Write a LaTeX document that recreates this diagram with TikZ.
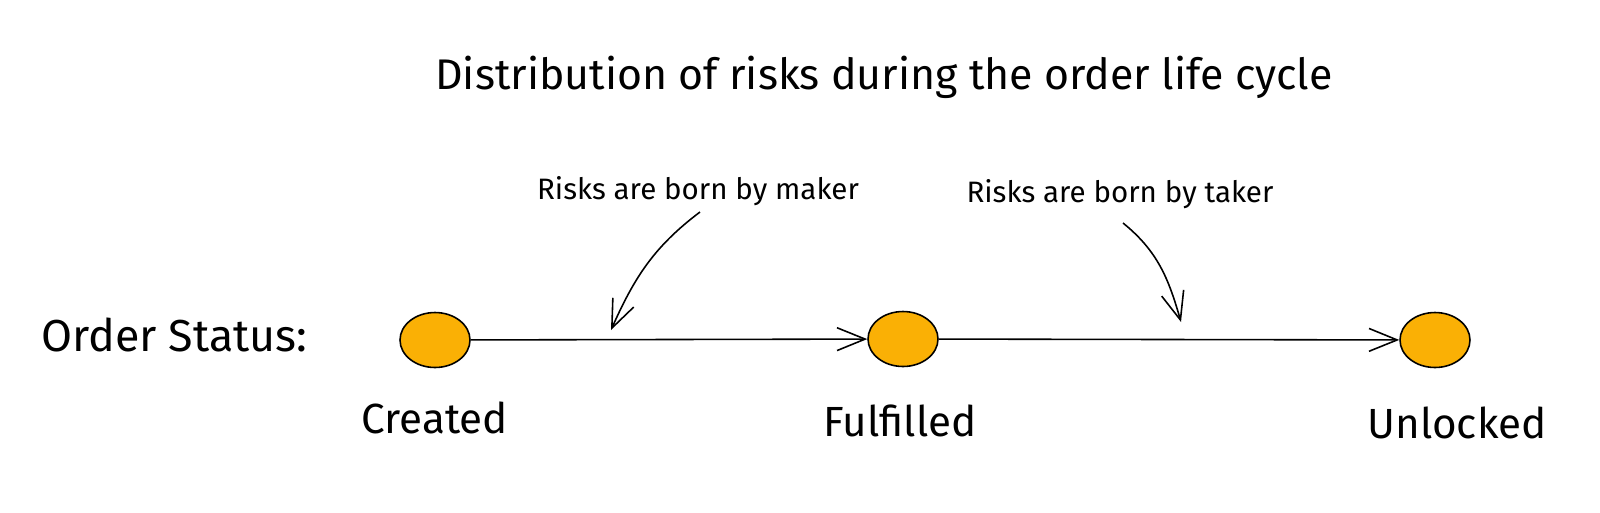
\documentclass[tikz,border=0pt]{standalone}
\usepackage{fontspec}
\setmainfont{Fira Sans}
\usetikzlibrary{shapes.geometric,arrows.meta}
\definecolor{statusfill}{HTML}{FAB005}
\tikzset{
  status/.style={ellipse, draw, fill=statusfill, line width=0.9pt, minimum width=1.4cm, minimum height=1.1cm, inner sep=0pt},
  statustxt/.style={font=\fontsize{24}{29}\selectfont},
  flow/.style={line width=0.9pt, -{Straight Barb[length=16pt,width=13pt]}},
  note/.style={font=\fontsize{16.8}{20}\selectfont}
}
\begin{document}
\begin{tikzpicture}[x=0.02cm, y=-0.02cm]
\useasboundingbox (0,0) rectangle (1600,512);

\node (title) at (884, 77) {\fontsize{24.4}{29}\selectfont Distribution of risks during the order life cycle};
\node (maker) at (698, 191) [note] {Risks are born by maker};
\node (taker) at (1120, 194) [note] {Risks are born by taker};
\node (order) at (41, 335) [anchor=west, inner sep=0pt, font=\fontsize{25.5}{30}\selectfont] {Order Status:};

\node (created) at (435, 340) [status] {};
\node (fulfilled) at (903, 339) [status] {};
\node (unlocked) at (1435, 340) [status] {};

\node (createdtxt) at (435, 418) [statustxt] {Created};
\node (fulfilledtxt) at (900, 421) [statustxt] {Fulfilled};
\node (unlockedtxt) at (1457, 423) [statustxt] {Unlocked};

\coordinate (makerfrom) at (700, 212);
\coordinate (makerto) at (611, 330);
\coordinate (takerfrom) at (1123, 223);
\coordinate (takerto) at (1181, 322);

\draw[flow] (created) to (fulfilled);
\draw[flow] (fulfilled) to (unlocked);
\draw[flow] (makerfrom) to[out=217, in=66] (makerto);
\draw[flow] (takerfrom) to[out=-39, in=106] (takerto);
\end{tikzpicture}
\end{document}
